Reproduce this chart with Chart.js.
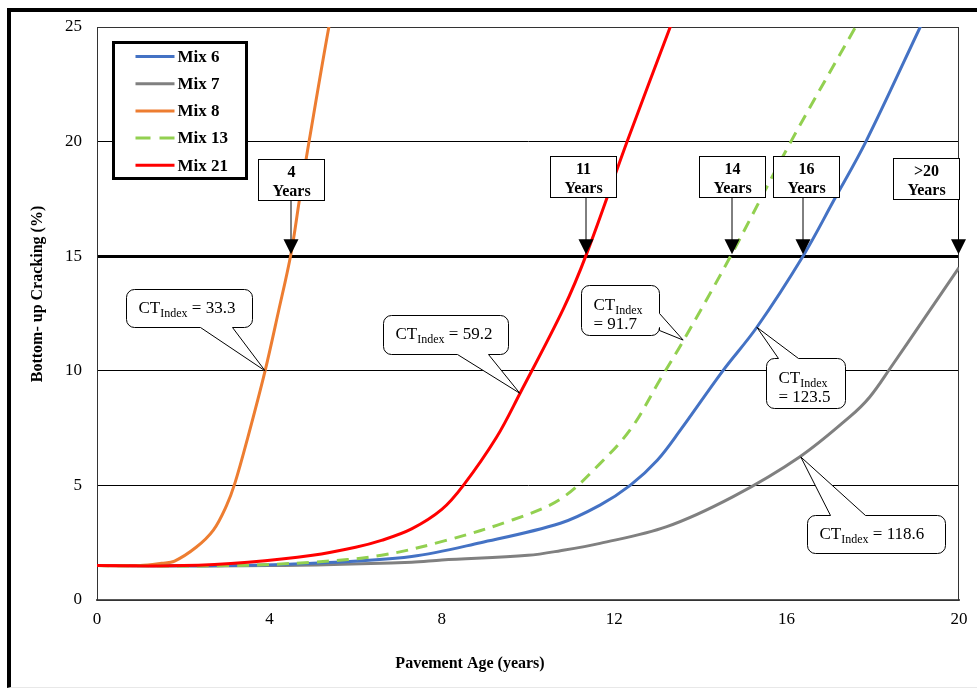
<!DOCTYPE html>
<html>
<head>
<meta charset="utf-8">
<script src="https://cdn.jsdelivr.net/npm/chart.js@4.4.1/dist/chart.umd.min.js"></script>
<style>
  body { margin: 0; background: #fff; }
  #wrap { position: relative; width: 977px; height: 689px; }
  #frame { position: absolute; left: 7px; top: 8px; right: 0; bottom: 1px;
           border-left: 4px solid #000; border-top: 4px solid #000; border-bottom: 1px solid #e8e8e8; }
  canvas { position: absolute; left: 0; top: 0; }
</style>
</head>
<body>
<div id="wrap">
  <div id="frame"></div>
  <canvas id="graph" width="977" height="689"></canvas>
</div>
<script>
const graphRef = document.getElementById('graph');
const serif = "'Liberation Serif', 'Times New Roman', serif";

// values: age (years) vs bottom-up cracking (%)
const mix6Age = [0, 3, 5, 7.3, 8.9, 10.75, 11.67, 12.37, 13, 13.53, 14.52, 15.31, 16.38, 17.1, 17.84, 19.1, 19.4];
const mix6Crack = [1.5, 1.5, 1.6, 1.9, 2.5, 3.35, 4.14, 5, 6.1, 7.4, 10, 11.9, 15, 17.45, 20, 25, 26.2];

const mix7Age = [0, 4, 7.3, 8, 10, 10.75, 11.67, 13.22, 14.76, 16.31, 17.47, 17.93, 18.4, 19.2, 20];
const mix7Crack = [1.5, 1.5, 1.65, 1.75, 1.95, 2.15, 2.47, 3.2, 4.51, 6.25, 8, 8.86, 10.1, 12.3, 14.5];

const mix8Age = [0, 1, 1.5, 1.8, 2.3, 2.7, 3, 3.2, 3.5, 3.9, 4.2, 4.5, 4.7, 4.92, 5.38, 5.6];
const mix8Crack = [1.5, 1.5, 1.6, 1.7, 2.3, 3.05, 4.1, 5.1, 7.1, 10, 12.5, 15.1, 17.5, 20, 25, 27];

const mix13Age = [0, 3, 5, 6.6, 8.1, 9.65, 10.75, 11.67, 12.4, 13.06, 13.6, 14.7, 16.1, 17.6, 17.9];
const mix13Crack = [1.5, 1.5, 1.65, 1.95, 2.6, 3.5, 4.4, 5.95, 7.5, 9.6, 11.3, 15, 20, 25, 26];

const mix21Age = [0, 2, 3.5, 5, 6, 6.6, 7.3, 8, 8.5, 9.27, 9.81, 10.82, 11.36, 12.3, 13.3, 13.6];
const mix21Crack = [1.5, 1.5, 1.65, 1.95, 2.3, 2.6, 3.1, 3.95, 5, 7.1, 9, 12.7, 15.1, 20, 25, 26.5];

const seriesNames = ['Mix 6', 'Mix 7', 'Mix 8', 'Mix 13', 'Mix 21'];
const seriesColors = ['#4472C4', '#808080', '#ED7D31', '#92D050', '#FF0000'];
const xTicks = [0, 4, 8, 12, 16, 20];
const yTicks = [0, 5, 10, 15, 20, 25];

// years to reach 15% cracking
const yearLabels = ['4', '11', '14', '16', '>20'];
const yearAges = [4.5, 11.35, 14.73, 16.38, 20];
const yearBoxAges = [4.5, 11.28, 14.74, 16.45, 19.23];

// CT index callouts: tip sits on the curve
const ctValues = ['33.3', '59.2', '91.7', '123.5', '118.6'];
const ctTipAge = [3.9, 9.81, 13.6, 15.31, 16.33];
const ctTipCrack = [10, 9.02, 11.34, 11.9, 6.24];
// box offset from tip in px [dx, dy, w, h], wedge side and base
const ctBoxes = [
  { box: [-139, -82, 126, 38], side: 'bottom', base: [74, 106], twoLine: false },
  { box: [-137, -78, 125, 39], side: 'bottom', base: [74, 105], twoLine: false },
  { box: [-102, -55, 78, 50], side: 'right', base: [28, 45], twoLine: true },
  { box: [9, 31, 79, 50], side: 'top', base: [12, 32], twoLine: true },
  { box: [6, 58, 138, 38], side: 'top', base: [23, 58], twoLine: false },
];

const pts = (ages, vals) => ages.map((a, i) => ({ x: a, y: vals[i] }));
const allAges = [mix6Age, mix7Age, mix8Age, mix13Age, mix21Age];
const allCrack = [mix6Crack, mix7Crack, mix8Crack, mix13Crack, mix21Crack];
const drawOrder = [4, 5, 3, 2, 1];

const datasets = seriesNames.map((name, i) => ({
  label: name,
  data: pts(allAges[i], allCrack[i]),
  borderColor: seriesColors[i],
  backgroundColor: seriesColors[i],
  borderWidth: 3,
  borderDash: name === 'Mix 13' ? [12, 8] : [],
  pointRadius: 0,
  tension: 0.35,
  fill: false,
  order: drawOrder[i],
}));

function calloutPath(ctx, x, y, w, h, r, side, b0, b1, tx, ty) {
  ctx.beginPath();
  ctx.moveTo(x + r, y);
  if (side === 'top') { ctx.lineTo(x + b0, y); ctx.lineTo(tx, ty); ctx.lineTo(x + b1, y); }
  ctx.lineTo(x + w - r, y);
  ctx.arcTo(x + w, y, x + w, y + r, r);
  if (side === 'right') { ctx.lineTo(x + w, y + b0); ctx.lineTo(tx, ty); ctx.lineTo(x + w, y + b1); }
  ctx.lineTo(x + w, y + h - r);
  ctx.arcTo(x + w, y + h, x + w - r, y + h, r);
  if (side === 'bottom') { ctx.lineTo(x + b1, y + h); ctx.lineTo(tx, ty); ctx.lineTo(x + b0, y + h); }
  ctx.lineTo(x + r, y + h);
  ctx.arcTo(x, y + h, x, y + h - r, r);
  ctx.lineTo(x, y + r);
  ctx.arcTo(x, y, x + r, y, r);
  ctx.closePath();
}

function drawCT(ctx, x, baseY, rest) {
  ctx.font = '17px ' + serif;
  ctx.fillText('CT', x, baseY);
  let w = ctx.measureText('CT').width;
  ctx.font = '12px ' + serif;
  ctx.fillText('Index', x + w, baseY + 4);
  w += ctx.measureText('Index').width;
  if (rest) {
    ctx.font = '17px ' + serif;
    ctx.fillText(rest, x + w, baseY);
  }
}

const overlays = {
  id: 'overlays',
  beforeDatasetsDraw(chart) {
    const { ctx, chartArea: a } = chart;
    ctx.save();
    ctx.strokeStyle = '#333';
    ctx.lineWidth = 1;
    ctx.strokeRect(a.left + 0.5, a.top + 0.5, a.right - a.left - 1, a.bottom - a.top);
    ctx.restore();
  },
  afterDatasetsDraw(chart) {
    const { ctx, chartArea: a, scales: { x, y } } = chart;
    ctx.save();
    ctx.fillStyle = '#000';
    ctx.strokeStyle = '#000';

    // year boxes with arrows down to the 15% line
    const line15 = y.getPixelForValue(15);
    yearLabels.forEach((lab, i) => {
      const ax = Math.round(x.getPixelForValue(yearAges[i])) - (i === 4 ? 0.5 : 0);
      const cx = x.getPixelForValue(yearBoxAges[i]);
      const top = a.top + (i === 0 ? 132 : i === 4 ? 131 : 129);
      const bw = 66, bh = 41;
      const bx = Math.round(cx - bw / 2) + 0.5, by = Math.round(top) + 0.5;
      ctx.lineWidth = 1;
      ctx.beginPath();
      ctx.moveTo(ax, by + bh);
      ctx.lineTo(ax, line15 - 16);
      ctx.stroke();
      ctx.beginPath();
      ctx.moveTo(ax - 7.5, line15 - 17);
      ctx.lineTo(ax + 7.5, line15 - 17);
      ctx.lineTo(ax, line15 - 2);
      ctx.closePath();
      ctx.fill();
      ctx.fillStyle = '#fff';
      ctx.fillRect(bx, by, bw, bh);
      ctx.strokeRect(bx, by, bw, bh);
      ctx.fillStyle = '#000';
      ctx.font = 'bold 16px ' + serif;
      ctx.textAlign = 'center';
      ctx.textBaseline = 'alphabetic';
      ctx.fillText(lab, bx + bw / 2, by + 17);
      ctx.fillText('Years', bx + bw / 2, by + 36);
    });

    // CT index callouts
    ctx.textAlign = 'left';
    ctValues.forEach((val, i) => {
      const c = ctBoxes[i];
      const tx = x.getPixelForValue(ctTipAge[i]);
      const ty = y.getPixelForValue(ctTipCrack[i]);
      const bx = Math.round(tx + c.box[0]) + 0.5, by = Math.round(ty + c.box[1]) + 0.5;
      const [, , w, h] = c.box;
      calloutPath(ctx, bx, by, w, h, 8, c.side, c.base[0], c.base[1], tx, ty);
      ctx.fillStyle = '#fff';
      ctx.fill();
      ctx.lineWidth = 1;
      ctx.strokeStyle = '#000';
      ctx.stroke();
      ctx.fillStyle = '#000';
      if (c.twoLine) {
        drawCT(ctx, bx + 12, by + 24, '');
        ctx.font = '17px ' + serif;
        ctx.fillText('= ' + val, bx + 12, by + 43);
      } else {
        drawCT(ctx, bx + 12, by + 23, ' = ' + val);
      }
    });

    // legend
    const lx = a.left + 16.5, ly = a.top + 15.5, lw = 133, lh = 136;
    ctx.fillStyle = '#fff';
    ctx.fillRect(lx, ly, lw, lh);
    ctx.lineWidth = 3;
    ctx.strokeStyle = '#000';
    ctx.strokeRect(lx, ly, lw, lh);
    chart.data.datasets.forEach((ds, i) => {
      const ry = ly + 14 + i * 27.2;
      ctx.strokeStyle = ds.borderColor;
      ctx.lineWidth = 3;
      ctx.setLineDash(ds.borderDash.length ? [15, 9] : []);
      ctx.beginPath();
      ctx.moveTo(lx + 22, ry);
      ctx.lineTo(lx + 61, ry);
      ctx.stroke();
      ctx.setLineDash([]);
      ctx.fillStyle = '#000';
      ctx.font = 'bold 17px ' + serif;
      ctx.textBaseline = 'middle';
      ctx.fillText(ds.label, lx + 64, ry + 1);
    });

    // axis titles (the originals sit off-centre)
    ctx.font = 'bold 16px ' + serif;
    ctx.textAlign = 'center';
    ctx.textBaseline = 'middle';
    ctx.fillText('Pavement Age (years)', 470, 664);
    ctx.translate(38, 294);
    ctx.rotate(-Math.PI / 2);
    ctx.fillText('Bottom- up Cracking (%)', 0, 0);
    ctx.restore();
  },
};

new Chart(graphRef, {
  type: 'line',
  data: { datasets: datasets },
  plugins: [overlays],
  options: {
    responsive: false,
    animation: false,
    devicePixelRatio: 1,
    layout: { padding: { left: 0, top: 27, right: 18, bottom: 0 } },
    plugins: { legend: { display: false }, tooltip: { enabled: false } },
    scales: {
      x: {
        type: 'linear',
        min: 0,
        max: 20,
        afterBuildTicks: (s) => { s.ticks = xTicks.map((v) => ({ value: v })); },
        afterFit: (s) => { s.height = 89; },
        grid: { display: false, drawTicks: false },
        border: { color: '#595959', width: 2 },
        ticks: { autoSkip: false, maxRotation: 0, padding: 9, color: '#000', font: { family: serif, size: 17 } },
      },
      y: {
        min: 0,
        max: 25,
        afterBuildTicks: (s) => { s.ticks = yTicks.map((v) => ({ value: v })); },
        afterFit: (s) => { s.width = 97; },
        grid: {
          drawTicks: false,
          color: '#000',
          lineWidth: (c) => (c.tick && c.tick.value === 15 ? 3 : 1),
        },
        border: { color: '#333', width: 1 },
        ticks: { padding: 15, color: '#000', font: { family: serif, size: 17 } },
      },
    },
  },
});
</script>
</body>
</html>
